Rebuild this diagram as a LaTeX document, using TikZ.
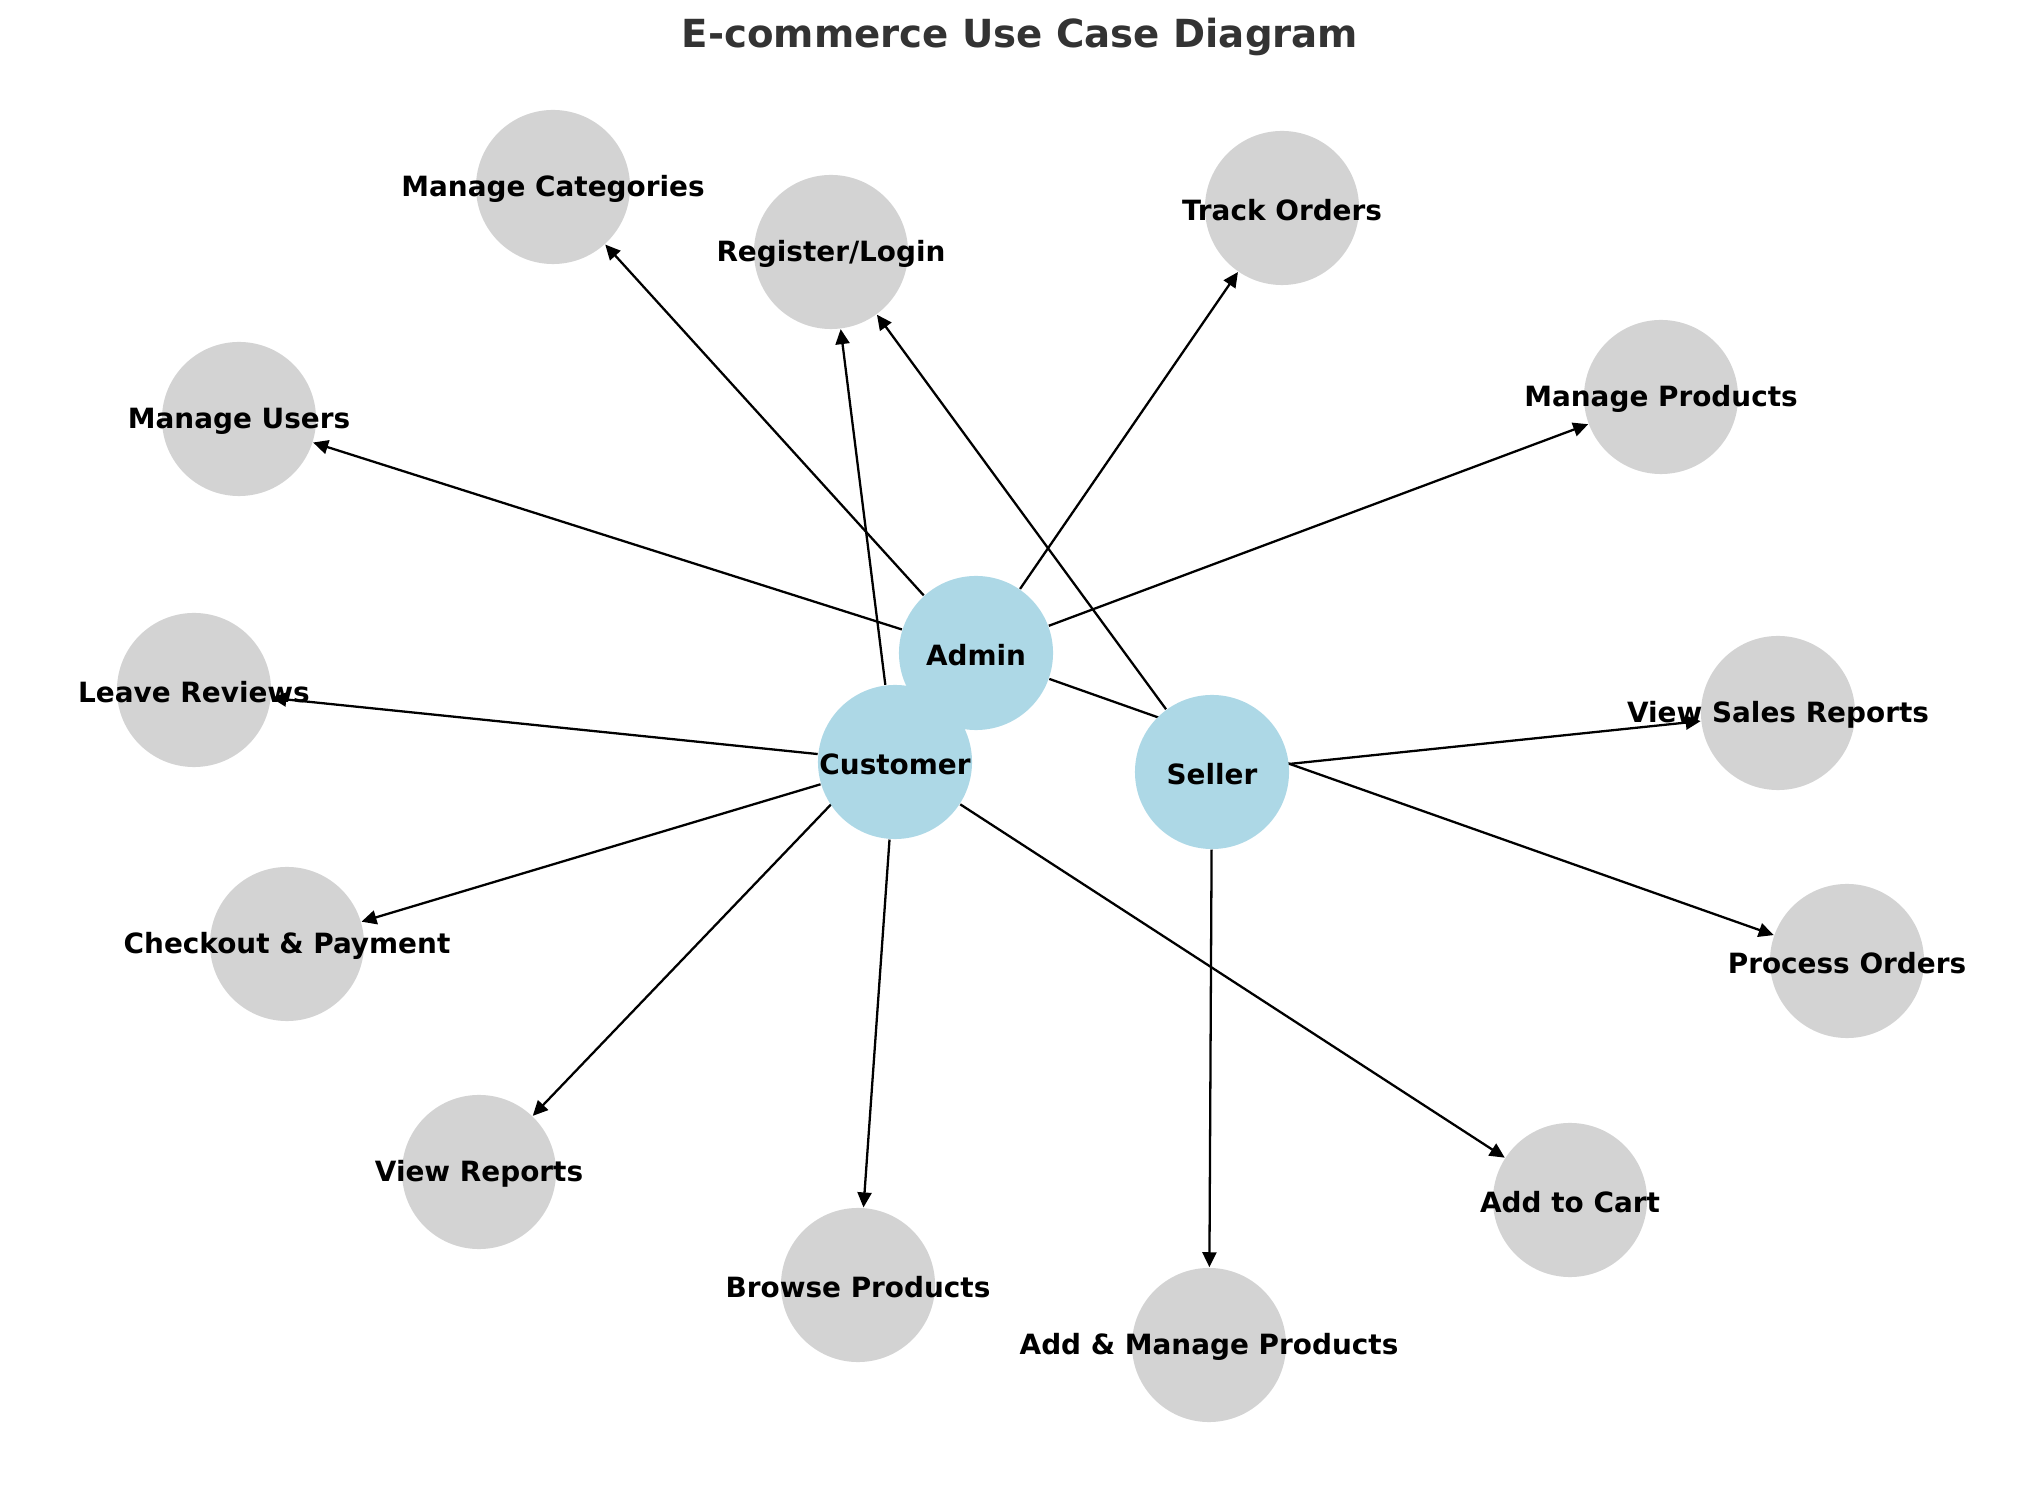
\documentclass[tikz,border=0pt]{standalone}
\usepackage{fontspec}
\setmainfont{DejaVu Sans}
\usetikzlibrary{arrows.meta}
\pgfdeclarelayer{background}
\pgfsetlayers{background,main}
\definecolor{actorcol}{HTML}{ADD8E6}
\definecolor{casecol}{HTML}{D3D3D3}
\definecolor{titlecol}{HTML}{333333}
\tikzset{
  ucnode/.style={circle, fill=casecol, draw=none, minimum size=1.54cm, inner sep=0pt},
  actornode/.style={circle, fill=actorcol, draw=none, minimum size=1.54cm, inner sep=0pt},
  lbl/.style={font=\fontsize{7.93}{9.5}\selectfont\bfseries, text=black, inner sep=0pt, yshift=-0.02cm},
  conn/.style={draw=black, line width=0.65pt, -{Triangle[length=0.15cm,width=0.14cm]}}
}
\begin{document}
\begin{tikzpicture}[x=0.01cm,y=-0.01cm]
\useasboundingbox (0,0) rectangle (2039,1486);
\node[font=\fontsize{11}{13}\selectfont\bfseries, text=titlecol] (title) at (1020,37) {E-commerce Use Case Diagram};
% actors
\node[actornode, label={[lbl]center:Admin}] (admin) at (976,653) {};
\node[actornode, label={[lbl]center:Customer}] (customer) at (895,762) {};
\node[actornode, label={[lbl]center:Seller}] (seller) at (1212,772) {};
% use cases
\node[ucnode, label={[lbl]center:Manage Categories}] (mcat) at (553,187) {};
\node[ucnode, label={[lbl]center:Register/Login}] (reg) at (831,252) {};
\node[ucnode, label={[lbl]center:Track Orders}] (track) at (1282,208) {};
\node[ucnode, label={[lbl]center:Manage Products}] (mprod) at (1661,397) {};
\node[ucnode, label={[lbl]center:Manage Users}] (musers) at (239,419) {};
\node[ucnode, label={[lbl]center:Leave Reviews}] (reviews) at (194,690) {};
\node[ucnode, label={[lbl]center:View Sales Reports}] (vsr) at (1778,713) {};
\node[ucnode, label={[lbl]center:Checkout \& Payment}] (checkout) at (287,944) {};
\node[ucnode, label={[lbl]center:Process Orders}] (process) at (1847,961) {};
\node[ucnode, label={[lbl]center:View Reports}] (vreports) at (479,1172) {};
\node[ucnode, label={[lbl]center:Browse Products}] (browse) at (858,1285) {};
\node[ucnode, label={[lbl]center:Add to Cart}] (cart) at (1570,1200) {};
\node[ucnode, label={[lbl]center:Add \& Manage Products}] (addmanage) at (1209,1345) {};
% connectors
\begin{pgfonlayer}{background}
\draw[conn] (admin) -- (mcat);
\draw[conn] (admin) -- (musers);
\draw[conn] (admin) -- (track);
\draw[conn] (admin) -- (mprod);
\draw[conn] (admin) -- (process);
\draw[conn] (admin) -- (vreports);
\draw[conn] (customer) -- (reg);
\draw[conn] (customer) -- (reviews);
\draw[conn] (customer) -- (checkout);
\draw[conn] (customer) -- (browse);
\draw[conn] (customer) -- (cart);
\draw[conn] (seller) -- (reg);
\draw[conn] (seller) -- (vsr);
\draw[conn] (seller) -- (addmanage);
\end{pgfonlayer}
\end{tikzpicture}
\end{document}
